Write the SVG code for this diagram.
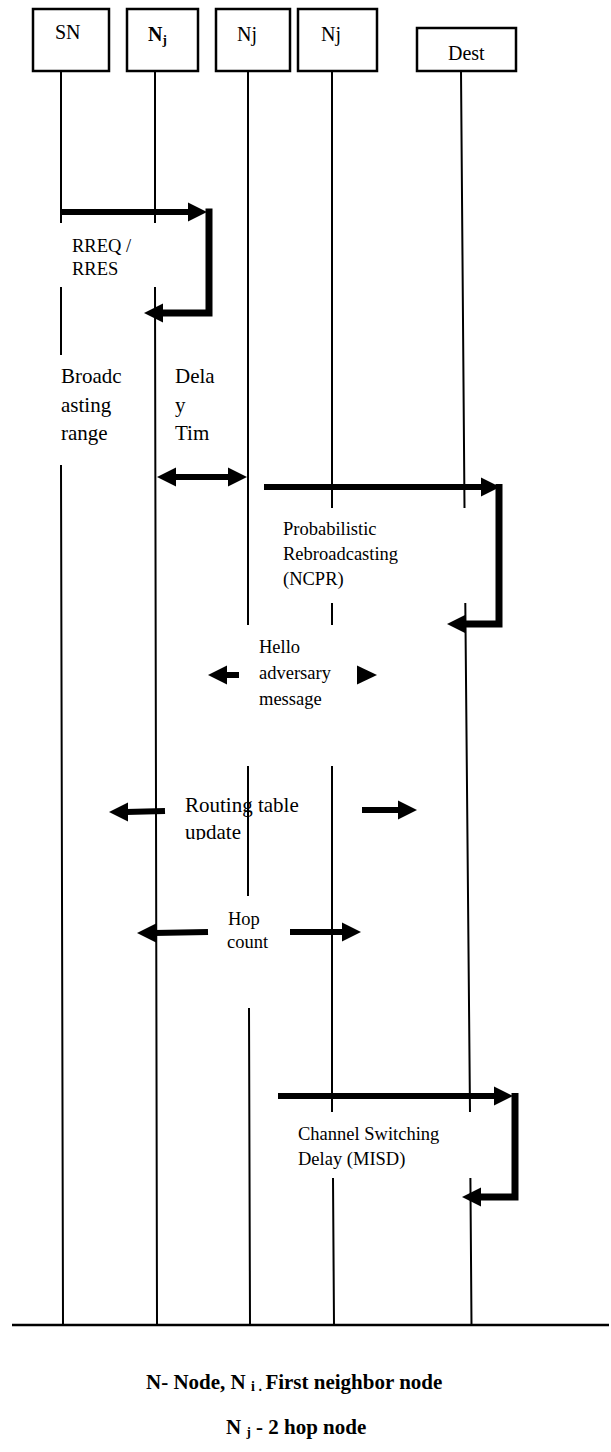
<svg xmlns="http://www.w3.org/2000/svg" width="611" height="1452" viewBox="0 0 611 1452">
<style>
.box{fill:#fff;stroke:#000;stroke-width:2.5}
.life{stroke:#000;stroke-width:2;fill:none}
.lbl{font-family:"Liberation Serif","Times New Roman",serif;font-size:20px;fill:#000}
.t21{font-family:"Liberation Serif","Times New Roman",serif;font-size:21px;fill:#000}
.t18{font-family:"Liberation Serif","Times New Roman",serif;font-size:18.5px;fill:#000}
.leg{font-family:"Liberation Serif","Times New Roman",serif;font-size:21px;font-weight:bold;fill:#000}
.shaft{stroke:#000;stroke-width:6;fill:none}
.bend{stroke:#000;stroke-width:7;fill:none;stroke-linejoin:miter}
.head{fill:#000}
</style>
<defs>
<clipPath id="clipUpdate"><rect x="150" y="760" width="200" height="80"/></clipPath>
</defs>
<rect width="611" height="1452" fill="#fff"/>

<g id="node-SN">
<rect class="box" x="33" y="9" width="76" height="62"/>
<text class="lbl" x="55" y="39">SN</text>
<path class="life" d="M61,71V223M61,287V355M61,465L63,1325"/>
</g>
<g id="node-Ni">
<rect class="box" x="127" y="9" width="71" height="62"/>
<text class="lbl" x="148" y="41" font-weight="bold">N<tspan font-size="13" dy="3">j</tspan></text>
<path class="life" d="M155,71V223M155,287L157,1325"/>
</g>
<g id="node-Nj1">
<rect class="box" x="216" y="9" width="74" height="62"/>
<text class="lbl" x="237" y="41">Nj</text>
<path class="life" d="M248,71V625M248,766V896M249,1008L250,1325"/>
</g>
<g id="node-Nj2">
<rect class="box" x="298" y="9" width="79" height="62"/>
<text class="lbl" x="321" y="41">Nj</text>
<path class="life" d="M332,71V508M332,603V625M332,766V1112M333,1178L334,1325"/>
</g>
<g id="node-Dest">
<rect class="box" x="417" y="28" width="99" height="43"/>
<text class="lbl" x="448" y="60">Dest</text>
<path class="life" d="M461,71L464.5,508M465.3,603L470,1112M470.4,1178L471.5,1325"/>
</g>

<g id="baseline">
<line x1="12" y1="1325" x2="609" y2="1325" stroke="#000" stroke-width="2.5"/>
</g>

<g id="connectors">
<!-- RREQ / RRES -->
<line class="shaft" x1="61" y1="212" x2="190" y2="212"/>
<polygon class="head" points="188,202.5 207,212 188,221.5"/>
<polyline class="bend" points="209,208.5 209,313 161,313"/>
<polygon class="head" points="163,303.5 144,313 163,322.5"/>
<!-- Delay time double arrow -->
<line class="shaft" x1="174" y1="477" x2="230" y2="477"/>
<polygon class="head" points="176,467.5 157,477 176,486.5"/>
<polygon class="head" points="228,467.5 247,477 228,486.5"/>
<!-- Probabilistic rebroadcasting -->
<line class="shaft" x1="264" y1="487" x2="483" y2="487"/>
<polygon class="head" points="481,477.5 500,487 481,496.5"/>
<polyline class="bend" points="499,484 499,624 464,624"/>
<polygon class="head" points="466,614.5 447,624 466,633.5"/>
<!-- Hello -->
<line class="shaft" x1="224" y1="675" x2="239" y2="675"/>
<polygon class="head" points="227,665.5 208,675 227,684.5"/>
<polygon class="head" points="357,665.5 377,675 357,684.5"/>
<!-- Routing table update -->
<line class="shaft" x1="126" y1="812" x2="165" y2="811"/>
<polygon class="head" points="128,802.5 109,812 128,821.5"/>
<line class="shaft" x1="362" y1="810" x2="400" y2="810"/>
<polygon class="head" points="398,800.5 417,810 398,819.5"/>
<!-- Hop count -->
<line class="shaft" x1="154" y1="933" x2="208" y2="932"/>
<polygon class="head" points="156,923.5 137,933 156,942.5"/>
<line class="shaft" x1="290" y1="932" x2="344" y2="932"/>
<polygon class="head" points="342,922.5 361,932 342,941.5"/>
<!-- Channel switching -->
<line class="shaft" x1="278" y1="1096" x2="496" y2="1096"/>
<polygon class="head" points="494,1086.5 513,1096 494,1105.5"/>
<polyline class="bend" points="515,1093 515,1197 479,1197"/>
<polygon class="head" points="481,1187.5 462,1197 481,1206.5"/>
</g>

<g id="labels">
<text class="t18" x="72" y="252">RREQ /</text>
<text class="t18" x="72" y="275">RRES</text>
<text class="t21" x="61" y="383">Broadc</text>
<text class="t21" x="61" y="412">asting</text>
<text class="t21" x="61" y="440">range</text>
<text class="t21" x="175" y="383">Dela</text>
<text class="t21" x="175" y="412">y</text>
<text class="t21" x="175" y="440">Tim</text>
<text class="t18" x="283" y="535">Probabilistic</text>
<text class="t18" x="283" y="560">Rebroadcasting</text>
<text class="t18" x="283" y="585">(NCPR)</text>
<text class="t18" x="259" y="653">Hello</text>
<text class="t18" x="259" y="679">adversary</text>
<text class="t18" x="259" y="705">message</text>
<text class="t21" x="185" y="812">Routing table</text>
<text class="t21" x="185" y="839" clip-path="url(#clipUpdate)">update</text>
<text class="t18" x="228" y="925">Hop</text>
<text class="t18" x="227" y="948">count</text>
<text class="t18" x="298" y="1140">Channel Switching</text>
<text class="t18" x="298" y="1165">Delay (MISD)</text>
</g>

<g id="legend">
<text class="leg" x="146" y="1389">N- Node, N <tspan font-size="14" dy="2">i . </tspan><tspan dy="-2">First neighbor node</tspan></text>
<text class="leg" x="226" y="1434">N <tspan font-size="13" dy="2">j</tspan><tspan dy="-2"> - 2 hop node</tspan></text>
</g>
</svg>
